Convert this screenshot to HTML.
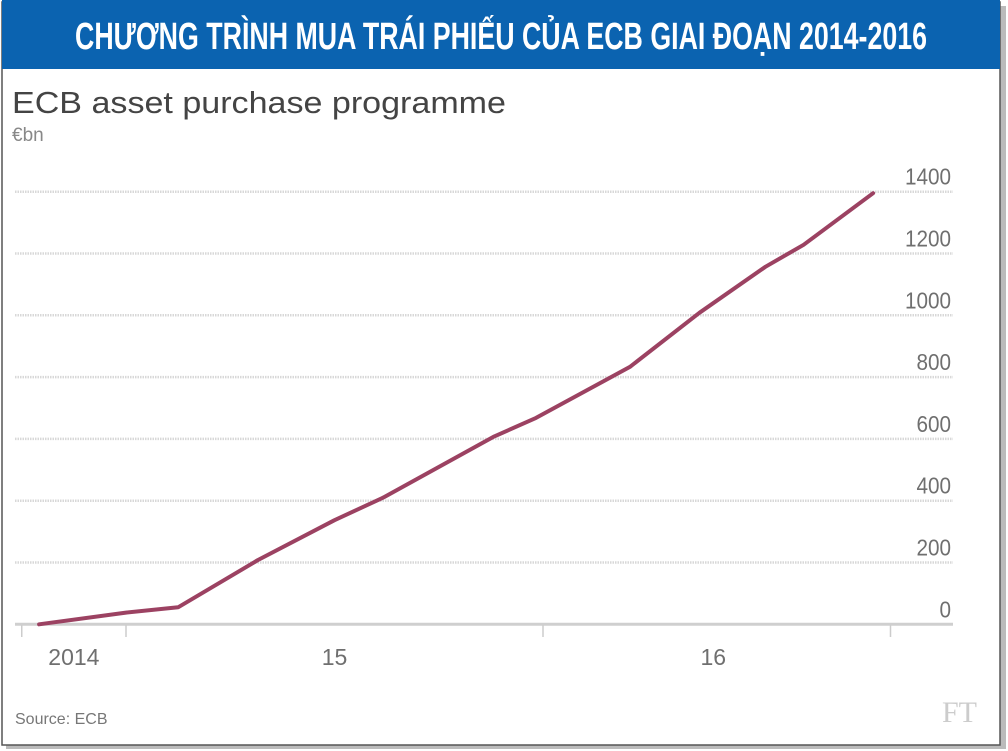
<!DOCTYPE html>
<html><head><meta charset="utf-8"><style>
html,body{margin:0;padding:0;background:#fff;}
svg{display:block;font-family:"Liberation Sans","Noto Sans CJK SC",sans-serif;}
</style></head><body>
<svg width="1008" height="751" viewBox="0 0 1008 751">
<rect x="0" y="0" width="1008" height="751" fill="#fff"/>
<rect x="6" y="6" width="1000" height="743" fill="#bbb"/>
<rect x="2" y="2" width="998" height="743" fill="#fff" stroke="#555" stroke-width="1.5"/>
<rect x="2" y="0" width="998" height="69" fill="#0b63b0"/>
<text x="501" y="49" text-anchor="middle" fill="#fff" font-weight="bold" font-size="38" textLength="852" lengthAdjust="spacingAndGlyphs">CHƯƠNG TRÌNH MUA TRÁI PHIẾU CỦA ECB GIAI ĐOẠN 2014-2016</text>
<text x="12" y="113" fill="#444" font-size="31" textLength="494" lengthAdjust="spacingAndGlyphs">ECB asset purchase programme</text>
<text x="12" y="141" fill="#888" font-size="19">€bn</text>
<g id="grid"></g>
<g id="xaxis"></g>
<g id="yticks"></g>
<g id="series"></g>
<text x="15" y="724" fill="#777" font-size="16">Source: ECB</text>
<text x="942" y="722" fill="#ccc" font-size="30" font-family="Liberation Serif, serif">FT</text>
</svg>
<script>
const yTicks = [0, 200, 400, 600, 800, 1000, 1200, 1400];
const xTickMonths = [-3, 0, 12, 22];
const xLabels = ["2014", "15", "16"];
const xLabelMonths = [-1.5, 6, 16.9];
const months = [-2.5, 0, 1.5, 3.8, 6, 7.4, 10.6, 11.8, 14.5, 16.5, 18.4, 19.5, 21.5];
const values = [0, 38, 55, 208, 337, 410, 608, 668, 833, 1008, 1157, 1228, 1395];

const NS = "http://www.w3.org/2000/svg";
function y(v){ return 624.3 - v * (432.6 / 1400); }
function x(m){ return 126 + m * 34.75; }
function mk(tag, attrs, parent){ const e = document.createElementNS(NS, tag); for (const k in attrs) e.setAttribute(k, attrs[k]); parent.appendChild(e); return e; }

const grid = document.getElementById('grid');
const yt = document.getElementById('yticks');
yTicks.forEach(v => {
  if (v > 0) {
    const l = mk('line', {x1: 15, x2: 953, y1: y(v), y2: y(v), stroke: '#d8d8d8', 'stroke-width': 2.5, 'stroke-dasharray': '1.5 1'}, grid);
    
    
  }
  const t = mk('text', {x: 951, y: y(v) - 7, 'text-anchor': 'end', fill: '#6f6f6f', 'font-size': 23, transform: 'translate(951,0) scale(0.9,1) translate(-951,0)'}, yt);
  t.textContent = String(v);
  
  
});

const xa = document.getElementById('xaxis');
const axis = mk('line', {x1: 15, x2: 953, y1: 624.3, y2: 624.3, stroke: '#cfcfcf', 'stroke-width': 3}, xa);


xTickMonths.forEach(m => {
  const l = mk('line', {x1: x(m), x2: x(m), y1: 625, y2: 637, stroke: '#ccc', 'stroke-width': 1.5}, xa);
  
  
});
xLabels.forEach((s, i) => {
  const t = mk('text', {x: x(xLabelMonths[i]), y: 665, 'text-anchor': 'middle', fill: '#6f6f6f', 'font-size': 23}, xa);
  t.textContent = s;
  
  
});

const pts = months.map((m, i) => x(m).toFixed(1) + ',' + y(values[i]).toFixed(1)).join(' ');
const line = mk('polyline', {points: pts, fill: 'none', stroke: '#9c4262', 'stroke-width': 4, 'stroke-linejoin': 'round', 'stroke-linecap': 'round'}, document.getElementById('series'));


</script>
</body></html>
